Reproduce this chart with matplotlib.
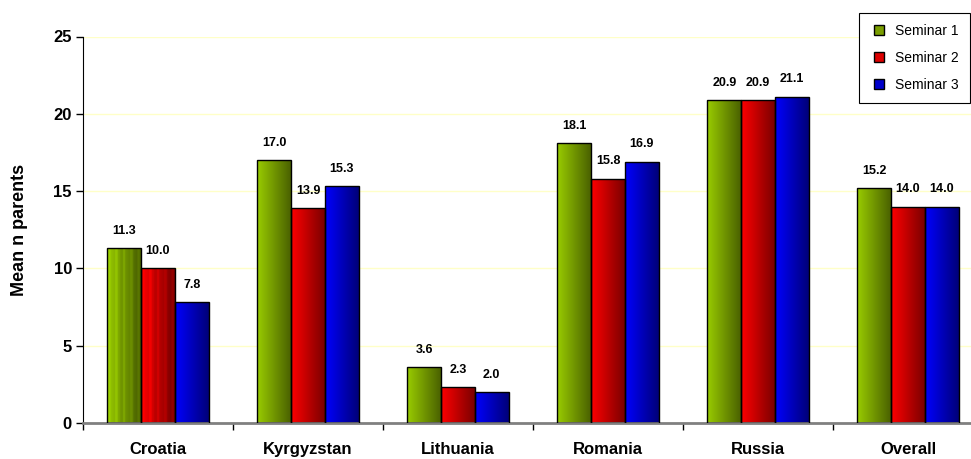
import numpy as np
import matplotlib
matplotlib.use('Agg')
import matplotlib.pyplot as plt
from matplotlib.colors import to_rgb
from matplotlib.lines import Line2D

plt.rcParams['font.family'] = ['Liberation Sans', 'DejaVu Sans']

countries = ['Croatia', 'Kyrgyzstan', 'Lithuania', 'Romania', 'Russia', 'Overall']
seminar1 = [11.3, 17.0, 3.6, 18.1, 20.9, 15.2]
seminar2 = [10.0, 13.9, 2.3, 15.8, 20.9, 14.0]
seminar3 = [7.8, 15.3, 2.0, 16.9, 21.1, 14.0]
series_names = ['Seminar 1', 'Seminar 2', 'Seminar 3']

# light -> dark colour for the horizontal fill of each series
fills = [('#99cc00', '#4a6100'), ('#ff0000', '#7a0000'), ('#0000ff', '#000078')]
legend_colors = ['#7a9e00', '#dd0000', '#0000cc']


def gradient(light, dark, stripes=False, n=120):
    t = np.linspace(0, 1, n)
    c = np.outer(1 - t, to_rgb(light)) + np.outer(t, to_rgb(dark))
    if stripes:
        # banded look used on the first group
        band = 1 + 0.12 * (np.sin(t * np.pi * 9) > 0.5) - 0.06 * (np.sin(t * np.pi * 5 + 1) > 0.7)
        c = np.clip(c * band[:, None], 0, 1)
    return c[None, :, :]


fig = plt.figure(figsize=(9.71, 4.59), dpi=100)
ax = fig.add_axes([83 / 971, 1 - 423 / 459, 900 / 971, 386.5 / 459])

x = np.arange(len(countries))
w = 0.225
data = [seminar1, seminar2, seminar3]
for i, vals in enumerate(data):
    pos = x + (i - 1) * w
    bars = ax.bar(pos, vals, w, facecolor='none', edgecolor='black', linewidth=1, zorder=3)
    for j, b in enumerate(bars):
        x0 = b.get_x()
        img = gradient(*fills[i], stripes=(j == 0 and i < 2))
        im = ax.imshow(img, extent=[x0, x0 + b.get_width(), 0, b.get_height()],
                       aspect='auto', zorder=2, interpolation='bilinear')
        im.set_clip_path(b)
        ax.annotate(f'{vals[j]:.1f}', (pos[j], vals[j]), xytext=(0, 12.5),
                    textcoords='offset points', ha='center', va='center',
                    fontsize=9, fontweight='bold', zorder=4)

ax.set_xlim(-0.5, len(countries) - 0.5)
ax.set_ylim(0, 25)
ax.set_yticks([0, 5, 10, 15, 20, 25])
ax.yaxis.grid(True, color='#ffffc8', linewidth=1, zorder=0)
ax.set_axisbelow(True)

ax.set_xticks(x)
ax.set_xticklabels(countries, fontsize=12, fontweight='bold')
ax.tick_params(axis='x', which='major', length=0, pad=14)
ax.set_xticks(np.arange(len(countries) + 1) - 0.5, minor=True)
ax.tick_params(axis='x', which='minor', length=5, width=1, color='black', direction='out')
ax.tick_params(axis='y', length=5, width=1, pad=3, labelsize=12)
for lab in ax.get_yticklabels():
    lab.set_fontweight('bold')

ax.spines['top'].set_visible(False)
ax.spines['right'].set_visible(False)
ax.spines['bottom'].set_color('#808080')
ax.spines['bottom'].set_linewidth(2)
ax.spines['left'].set_color('black')

ax.set_ylabel('Mean n parents', fontsize=13, fontweight='bold')
ax.yaxis.set_label_coords(-0.061, 0.5)

handles = [Line2D([], [], linestyle='none', marker='s', markersize=7.5,
                  markerfacecolor=c, markeredgecolor='black', markeredgewidth=1)
           for c in legend_colors]
leg = fig.legend(handles, series_names, loc='upper right', bbox_to_anchor=(0.999, 0.972),
                 fontsize=10, handlelength=1.3, handletextpad=0.5,
                 labelspacing=0.95, borderpad=0.8, borderaxespad=0, fancybox=False,
                 framealpha=1, edgecolor='black')
leg.get_frame().set_linewidth(0.8)

fig.savefig('out.png', dpi=100)
